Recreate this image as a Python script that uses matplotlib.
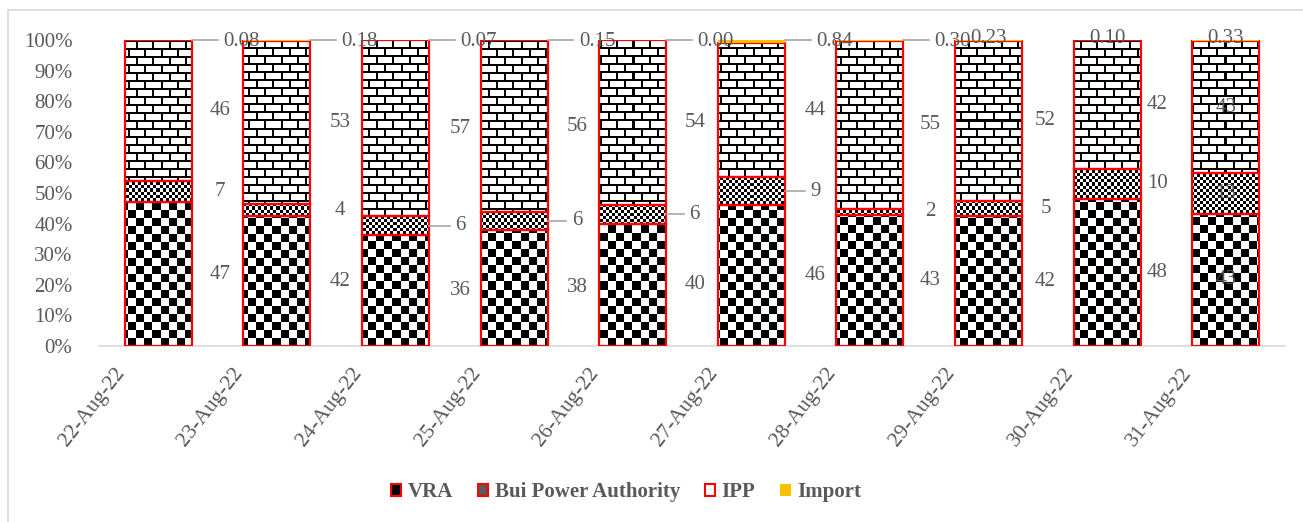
import numpy as np
import matplotlib
matplotlib.use('Agg')
import matplotlib.pyplot as plt
from matplotlib.patches import Patch, Rectangle
from matplotlib.transforms import ScaledTranslation

dates = ['22-Aug-22', '23-Aug-22', '24-Aug-22', '25-Aug-22', '26-Aug-22',
         '27-Aug-22', '28-Aug-22', '29-Aug-22', '30-Aug-22', '31-Aug-22']
vra    = [47, 42, 36, 38, 40, 46, 43, 42, 48, 43]
bui    = [7, 4, 6, 6, 6, 9, 2, 5, 10, 13]
ipp    = [46, 53, 57, 56, 54, 44, 55, 52, 42, 43]
imports = [0.08, 0.18, 0.07, 0.15, 0.00, 0.84, 0.30, 0.23, 0.10, 0.33]

plt.rcParams['font.family'] = ['Liberation Serif', 'DejaVu Serif']
GREY = '#595959'
FS = 15

fig = plt.figure(figsize=(13.03, 5.22), dpi=100)
ax = fig.add_axes([99 / 1303, 1 - 346 / 522, 1186 / 1303, 306 / 522])

x = np.arange(len(dates))
series = [np.array(vra, float), np.array(bui, float), np.array(ipp, float), np.array(imports, float)]
total = sum(series)
shares = [s / total for s in series]
bottoms = np.concatenate([[np.zeros(len(x))], np.cumsum(shares, axis=0)[:-1]])

width = 0.565
ax.set_xlim(-0.5, len(x) - 0.5)
ax.set_ylim(0, 1)


def pattern(kind, px0, px1, py0, py1):
    xs = np.arange(int(round(px0)), int(round(px1)))
    ys = np.arange(int(round(py0)), int(round(py1)))
    X, Y = np.meshgrid(xs, ys)
    if kind == 'check':
        return ((X // 8 + Y // 8) % 2).astype(float)
    if kind == 'fine':
        return ((X // 3 + Y // 3) % 2).astype(float)
    # bricks
    row = Y // 8
    horiz = (Y % 8) < 2
    vert = ((X + (row % 2) * 8) % 16) < 2
    return np.where(horiz | vert, 0.0, 1.0)


kinds = ['check', 'fine', 'brick']
for k, kind in enumerate(kinds):
    bars = ax.bar(x, shares[k], width, bottom=bottoms[k], facecolor='none',
                  edgecolor='red', linewidth=1.6, zorder=3)
    for i, rect in enumerate(bars):
        x0, y0 = rect.get_x(), rect.get_y()
        x1, y1 = x0 + rect.get_width(), y0 + rect.get_height()
        (px0, py0), (px1, py1) = ax.transData.transform([[x0, y0], [x1, y1]])
        if py1 - py0 < 1:
            continue
        img = pattern(kind, px0, px1, py0, py1)
        im = ax.imshow(img, extent=(x0, x1, y0, y1), origin='lower', cmap='gray',
                       vmin=0, vmax=1, interpolation='nearest', aspect='auto', zorder=2)
        im.set_clip_path(rect)

ax.bar(x, shares[3], width, bottom=bottoms[3], color='#FFC000', linewidth=0, zorder=4)
ax.set_xlim(-0.5, len(x) - 0.5)
ax.set_ylim(0, 1)

# data labels
unit = 118.6  # px per category
dx = [62, 63, 65, 63, 62, 64, 60, 57, 50, 0]
for i in range(len(x)):
    off = dx[i] / unit
    for k in range(3):
        yc = bottoms[k][i] + shares[k][i] / 2
        ax.text(x[i] + off, yc, f'{series[k][i]:.0f}', ha='center', va='center',
                fontsize=FS, color=GREY, zorder=5)
    # leaders for the small Bui segments that were pulled aside
    if i in (2, 3, 4, 5):
        yc = bottoms[1][i] + shares[1][i] / 2
        ax.plot([x[i] + width / 2, x[i] + off - 0.09], [yc, yc], color='#a6a6a6',
                lw=1.2, zorder=4, clip_on=False)
    # import labels
    if i <= 6:
        ax.plot([x[i] + width / 2, x[i] + 0.5], [1.0, 1.0], color='#a6a6a6', lw=1.2,
                zorder=4, clip_on=False)
        ax.text(x[i] + 0.70, 0.995, f'{imports[i]:.2f}', ha='center', va='center',
                fontsize=FS, color=GREY, zorder=5)
    else:
        ax.text(x[i], 1.005, f'{imports[i]:.2f}', ha='center', va='center',
                fontsize=FS, color=GREY, zorder=5)

ax.set_yticks(np.arange(0, 1.01, 0.1))
ax.set_yticklabels([f'{v}%' for v in range(0, 101, 10)], fontsize=FS, color=GREY)
ax.set_xticks(x)
ax.set_xticklabels(dates, rotation=52, ha='right', va='center', rotation_mode='anchor',
                   fontsize=15.5, color=GREY)
ax.tick_params(axis='both', length=0)
ax.tick_params(axis='y', pad=19)
ax.tick_params(axis='x', pad=8)
# shift the slanted date labels (after tick_params, which resets transforms)
for lab in ax.get_xticklabels():
    lab.set_transform(lab.get_transform() + ScaledTranslation(-0.37, -0.13, fig.dpi_scale_trans))
for side in ['top', 'right', 'left']:
    ax.spines[side].set_visible(False)
ax.spines['bottom'].set_color('#d9d9d9')
ax.spines['bottom'].set_linewidth(1.2)

handles = [
    Patch(facecolor='black', edgecolor='red', linewidth=1.5, label='VRA'),
    Patch(facecolor='#5a5a5a', edgecolor='red', linewidth=1.5, label='Bui Power Authority'),
    Patch(facecolor='white', edgecolor='red', linewidth=1.5, label='IPP'),
    Patch(facecolor='#FFC000', edgecolor='none', label='Import'),
]
leg = fig.legend(handles=handles, loc='center', bbox_to_anchor=(626 / 1303, 1 - 492 / 522),
                 ncol=4, frameon=False, handlelength=0.5, handleheight=0.5,
                 handletextpad=0.3, columnspacing=1.2,
                 prop={'size': FS, 'weight': 'bold'})
for t in leg.get_texts():
    t.set_color(GREY)

# chart area border
fig.add_artist(Rectangle((8 / 1303, -0.05), 1.2, 1 - 10 / 522 + 0.05,
                         transform=fig.transFigure, fill=False,
                         edgecolor='#d9d9d9', linewidth=1.2))

fig.savefig('out.png', dpi=100)
